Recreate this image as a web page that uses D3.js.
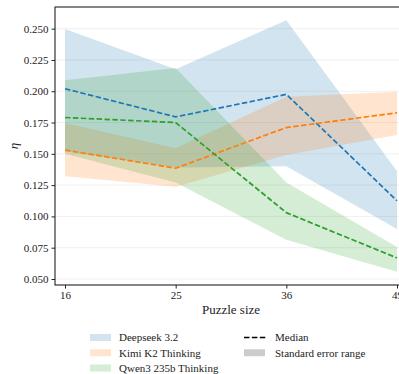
<!DOCTYPE html>
<html>
<head>
<meta charset="utf-8">
<script src="https://cdn.jsdelivr.net/npm/d3@7"></script>
<style>
  html, body { margin: 0; padding: 0; background: #fff; }
  svg { display: block; font-family: "Liberation Serif", "DejaVu Serif", serif; }
</style>
</head>
<body>
<div id="chart"></div>
<script>
// puzzle sizes (x categories)
const sizes = [16, 25, 36, 49];

// median values and standard error range per model
const deepseekMed = [0.202, 0.1795, 0.1975, 0.1125];
const deepseekLo  = [0.152, 0.139, 0.140, 0.090];
const deepseekHi  = [0.2497, 0.2175, 0.2567, 0.136];

const kimiMed = [0.153, 0.1385, 0.171, 0.1828];
const kimiLo  = [0.132, 0.1237, 0.149, 0.165];
const kimiHi  = [0.1746, 0.1545, 0.1955, 0.1995];

const qwenMed = [0.179, 0.175, 0.103, 0.0668];
const qwenLo  = [0.150, 0.127, 0.0813, 0.0558];
const qwenHi  = [0.2087, 0.2185, 0.127, 0.0756];

const yTicks = [0.050, 0.075, 0.100, 0.125, 0.150, 0.175, 0.200, 0.225, 0.250];

const models = ['Deepseek 3.2', 'Kimi K2 Thinking', 'Qwen3 235b Thinking'];
const colors = ['#1f77b4', '#ff7f0e', '#2ca02c'];

const series = [
  { name: models[0], color: colors[0], med: deepseekMed, lo: deepseekLo, hi: deepseekHi },
  { name: models[1], color: colors[1], med: kimiMed,     lo: kimiLo,     hi: kimiHi },
  { name: models[2], color: colors[2], med: qwenMed,     lo: qwenLo,     hi: qwenHi }
];

const W = 399, H = 374;
const plot = { left: 55, right: 407, top: 7, bottom: 285 };

const svg = d3.select('#chart').append('svg')
  .attr('width', W).attr('height', H);

const x = d3.scalePoint(sizes, [65, 397]);
const y = d3.scaleLinear([0.0452, 0.2673], [plot.bottom, plot.top]);

// grid
svg.append('g')
  .selectAll('line')
  .data(yTicks)
  .join('line')
    .attr('x1', plot.left).attr('x2', plot.right)
    .attr('y1', d => y(d)).attr('y2', d => y(d))
    .attr('stroke', '#ebebeb').attr('stroke-width', 0.8);

// bands
const area = d3.area()
  .x((d, i) => x(sizes[i]))
  .y0(d => y(d[0]))
  .y1(d => y(d[1]));

svg.append('g')
  .selectAll('path')
  .data(series)
  .join('path')
    .attr('d', s => area(s.lo.map((v, i) => [v, s.hi[i]])))
    .attr('fill', s => s.color)
    .attr('fill-opacity', 0.2);

// medians
const line = d3.line()
  .x((d, i) => x(sizes[i]))
  .y(d => y(d));

svg.append('g')
  .selectAll('path')
  .data(series)
  .join('path')
    .attr('d', s => line(s.med))
    .attr('fill', 'none')
    .attr('stroke', s => s.color)
    .attr('stroke-width', 1.7)
    .attr('stroke-dasharray', '5.5,2.4');

// spines
svg.append('rect')
  .attr('x', plot.left).attr('y', plot.top)
  .attr('width', plot.right - plot.left).attr('height', plot.bottom - plot.top)
  .attr('fill', 'none').attr('stroke', '#222').attr('stroke-width', 1.1);

// axes
const yAxis = svg.append('g')
  .attr('transform', `translate(${plot.left},0)`)
  .call(d3.axisLeft(y).tickValues(yTicks).tickFormat(d3.format('.3f')).tickSizeOuter(0).tickSize(3.5).tickPadding(3));
const xAxis = svg.append('g')
  .attr('transform', `translate(0,${plot.bottom})`)
  .call(d3.axisBottom(x).tickSizeOuter(0).tickSize(3.5).tickPadding(3));

[xAxis, yAxis].forEach(g => {
  g.select('.domain').remove();
  g.selectAll('.tick line').attr('stroke', '#222');
  g.selectAll('.tick text')
    .attr('fill', '#222')
    .style('font-family', '"Liberation Serif", serif')
    .style('font-size', '11px');
});

svg.append('text')
  .attr('x', 231).attr('y', 314)
  .attr('text-anchor', 'middle')
  .attr('fill', '#222')
  .style('font-size', '13px')
  .text('Puzzle size');

svg.append('text')
  .attr('transform', `translate(18,146) rotate(-90)`)
  .attr('text-anchor', 'middle')
  .attr('fill', '#222')
  .style('font-size', '13px')
  .style('font-style', 'italic')
  .text('η');

// legend
const leg = svg.append('g').style('font-size', '11px');
const rowY = d3.scalePoint([0, 1, 2], [337.5, 368]);

leg.selectAll('rect.m')
  .data(series)
  .join('rect')
    .attr('class', 'm')
    .attr('x', 90).attr('y', (d, i) => rowY(i) - 3.5)
    .attr('width', 21).attr('height', 7)
    .attr('fill', s => s.color).attr('fill-opacity', 0.2);

leg.selectAll('text.m')
  .data(series)
  .join('text')
    .attr('class', 'm')
    .attr('x', 119).attr('y', (d, i) => rowY(i) + 3.8)
    .attr('fill', '#222')
    .text(s => s.name);

leg.append('line')
  .attr('x1', 244).attr('x2', 266)
  .attr('y1', rowY(0)).attr('y2', rowY(0))
  .attr('stroke', '#000').attr('stroke-width', 1.7)
  .attr('stroke-dasharray', '5.5,2.4');
leg.append('text')
  .attr('x', 275).attr('y', rowY(0) + 3.8)
  .attr('fill', '#222').text('Median');

leg.append('rect')
  .attr('x', 244).attr('y', rowY(1) - 3.5)
  .attr('width', 21).attr('height', 7)
  .attr('fill', '#808080').attr('fill-opacity', 0.4);
leg.append('text')
  .attr('x', 275).attr('y', rowY(1) + 3.8)
  .attr('fill', '#222').text('Standard error range');
</script>
</body>
</html>
